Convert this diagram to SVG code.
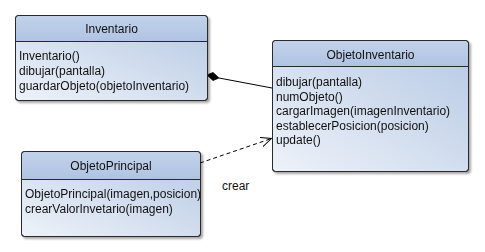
<svg xmlns="http://www.w3.org/2000/svg" width="485" height="252" viewBox="0 0 485 252">
  <defs>
    <linearGradient id="bodyFill" x1="0" y1="1" x2="1" y2="0">
      <stop offset="0" stop-color="#eef2f9"/>
      <stop offset="1" stop-color="#b6c9e4"/>
    </linearGradient>
    <linearGradient id="headFill" x1="0" y1="0" x2="0" y2="1">
      <stop offset="0" stop-color="#c2d2ea"/>
      <stop offset="1" stop-color="#afc3e2"/>
    </linearGradient>
    <filter id="shadow" x="-10%" y="-10%" width="120%" height="120%">
      <feGaussianBlur in="SourceAlpha" stdDeviation="1.2"/>
      <feOffset dx="1.5" dy="1.5" result="b"/>
      <feComponentTransfer><feFuncA type="linear" slope="0.35"/></feComponentTransfer>
      <feMerge><feMergeNode/><feMergeNode in="SourceGraphic"/></feMerge>
    </filter>
    <marker id="openArrow" viewBox="0 0 12 10" refX="11" refY="5" markerWidth="12" markerHeight="10" markerUnits="userSpaceOnUse" orient="auto">
      <path d="M0,0 L11,5 L0,10" fill="none" stroke="#000" stroke-width="1"/>
    </marker>
  </defs>
  <style>
    .box { fill: url(#bodyFill); stroke: #2b2b2b; stroke-width: 1; }
    .head { fill: url(#headFill); }
    .sep { stroke: #2b2b2b; stroke-width: 1; }
    text { font-family: "Liberation Sans", Arial, sans-serif; font-size: 12px; fill: #111; }
    .title { text-anchor: middle; }
    .edge { fill: none; stroke: #000; stroke-width: 1; }
  </style>

  <rect width="485" height="252" fill="#fff"/>

  <g id="connectors">
    <!-- composition: Inventario owns ObjetoInventario -->
    <line class="edge" x1="219" y1="78" x2="272" y2="88"/>
    <polygon points="207,75 213,72.5 219,78 213,80.5" fill="#000" stroke="#000" stroke-width="0.8"/>
    <!-- dependency: ObjetoPrincipal creates ObjetoInventario -->
    <line class="edge" x1="200" y1="163" x2="271.5" y2="138.5" stroke-dasharray="4,3" marker-end="url(#openArrow)"/>
    <text x="222" y="190">crear</text>
  </g>

  <g id="Inventario" filter="url(#shadow)">
    <rect class="box" x="15.5" y="15.5" width="192" height="85" rx="3"/>
    <path class="head" d="M18.5,16 H204.5 A2.5,2.5 0 0 1 207,18.5 V41.5 H16 V18.5 A2.5,2.5 0 0 1 18.5,16 Z"/>
    <line class="sep" x1="15.5" y1="41.5" x2="207.5" y2="41.5"/>
    <rect x="15.5" y="15.5" width="192" height="85" rx="3" fill="none" stroke="#2b2b2b"/>
    <text class="title" x="111.5" y="33">Inventario</text>
    <text x="19" y="59.5">Inventario()</text>
    <text x="19" y="74.5">dibujar(pantalla)</text>
    <text x="19" y="89.5">guardarObjeto(objetoInventario)</text>
  </g>

  <g id="ObjetoInventario" filter="url(#shadow)">
    <rect class="box" x="272.5" y="40.5" width="196" height="131" rx="3"/>
    <path class="head" d="M275.5,41 H465.5 A2.5,2.5 0 0 1 468,43.5 V66.5 H273 V43.5 A2.5,2.5 0 0 1 275.5,41 Z"/>
    <line class="sep" x1="272.5" y1="66.5" x2="468.5" y2="66.5"/>
    <rect x="272.5" y="40.5" width="196" height="131" rx="3" fill="none" stroke="#2b2b2b"/>
    <text class="title" x="370.5" y="59">ObjetoInventario</text>
    <text x="276" y="86">dibujar(pantalla)</text>
    <text x="276" y="100.5">numObjeto()</text>
    <text x="276" y="115">cargarImagen(imagenInventario)</text>
    <text x="276" y="129.5">establecerPosicion(posicion)</text>
    <text x="276" y="144">update()</text>
  </g>

  <g id="ObjetoPrincipal" filter="url(#shadow)">
    <rect class="box" x="21.5" y="151.5" width="179" height="85" rx="3"/>
    <path class="head" d="M24.5,152 H197.5 A2.5,2.5 0 0 1 200,154.5 V179.5 H22 V154.5 A2.5,2.5 0 0 1 24.5,152 Z"/>
    <line class="sep" x1="21.5" y1="179.5" x2="200.5" y2="179.5"/>
    <rect x="21.5" y="151.5" width="179" height="85" rx="3" fill="none" stroke="#2b2b2b"/>
    <text class="title" x="111" y="169.5">ObjetoPrincipal</text>
    <text x="25" y="197.5">ObjetoPrincipal(imagen,posicion)</text>
    <text x="25" y="212.5">crearValorInvetario(imagen)</text>
  </g>
</svg>
